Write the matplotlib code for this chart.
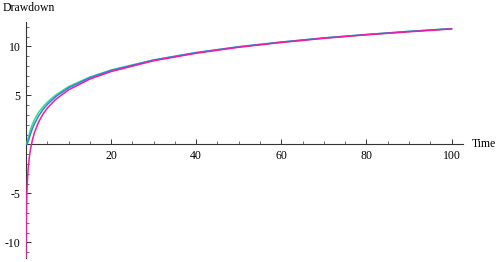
import matplotlib
matplotlib.use("Agg")
import matplotlib.pyplot as plt
from matplotlib.ticker import MultipleLocator

# values
time_theis = [0, 0.2, 0.3, 0.5, 0.75, 1, 1.5, 2, 3, 4, 5, 7, 10, 15, 20, 30, 40, 50, 60, 70, 80, 90, 100]
drawdown_blue = [0, 0.02, 0.08, 0.29, 0.63, 1.0, 1.6, 2.12, 2.93, 3.57, 4.08, 4.89, 5.77, 6.81, 7.55,
                 8.61, 9.37, 9.97, 10.45, 10.87, 11.22, 11.54, 11.82]
drawdown_green = [0, 0.12, 0.3, 0.62, 1.05, 1.45, 2.05, 2.55, 3.3, 3.85, 4.3, 5.05, 5.9, 6.88, 7.6,
                  8.63, 9.38, 9.97, 10.45, 10.87, 11.22, 11.54, 11.82]

time_jacob = [0.015, 0.03, 0.05, 0.1, 0.2, 0.3, 0.5, 0.75, 1, 1.5, 2, 3, 4, 5, 7, 10, 15, 20,
              30, 40, 50, 60, 70, 80, 90, 100]
drawdown_magenta = [-11.98, -10.11, -8.73, -6.86, -4.99, -3.9, -2.52, -1.42, -0.65, 0.45, 1.23, 2.32,
                    3.1, 3.7, 4.61, 5.57, 6.67, 7.44, 8.54, 9.31, 9.92, 10.41, 10.83, 11.19, 11.5, 11.79]

x_ticks = [20, 40, 60, 80, 100]
y_ticks = [-10, -5, 5, 10]

plt.rcParams['font.family'] = ['Liberation Serif', 'DejaVu Serif']

fig = plt.figure(figsize=(5, 2.62), dpi=100)
ax = fig.add_axes([26 / 500, 4 / 262, 437 / 500, 236 / 262])

# curves sit on top of the axis lines, as in the original
ax.plot(time_theis, drawdown_green, color='#33e07a', lw=1.1, zorder=3)
ax.plot(time_theis, drawdown_blue, color='#2f7cf6', lw=1.1, zorder=3)
ax.plot(time_jacob, drawdown_magenta, color='#f21c9c', lw=1.1, zorder=3)

ax.set_xlim(0, 102.7)
ax.set_ylim(-11.6, 12.5)

# axes crossing at the origin, Mathematica style
for side in ['top', 'right']:
    ax.spines[side].set_visible(False)
ax.spines['left'].set_position(('data', 0))
ax.spines['bottom'].set_position(('data', 0))
for side in ['left', 'bottom']:
    ax.spines[side].set_color('#333333')
    ax.spines[side].set_linewidth(0.8)

ax.set_xticks(x_ticks)
ax.set_yticks(y_ticks)
ax.set_xticklabels([str(v) for v in x_ticks])
ax.set_yticklabels([str(v) for v in y_ticks])
ax.xaxis.set_minor_locator(MultipleLocator(5))
ax.yaxis.set_minor_locator(MultipleLocator(1))
ax.tick_params(which='major', direction='in', length=3.5, width=0.7, color='#333333',
               labelsize=8.5, pad=4)
ax.tick_params(which='minor', direction='in', length=2, width=0.5, color='#333333')

fig.text(3 / 500, 1 - 8 / 262, 'Drawdown', fontsize=8.5, ha='left', va='center')
fig.text(472 / 500, 1 - 144 / 262, 'Time', fontsize=8.5, ha='left', va='center')

fig.savefig('out.png', dpi=100)
